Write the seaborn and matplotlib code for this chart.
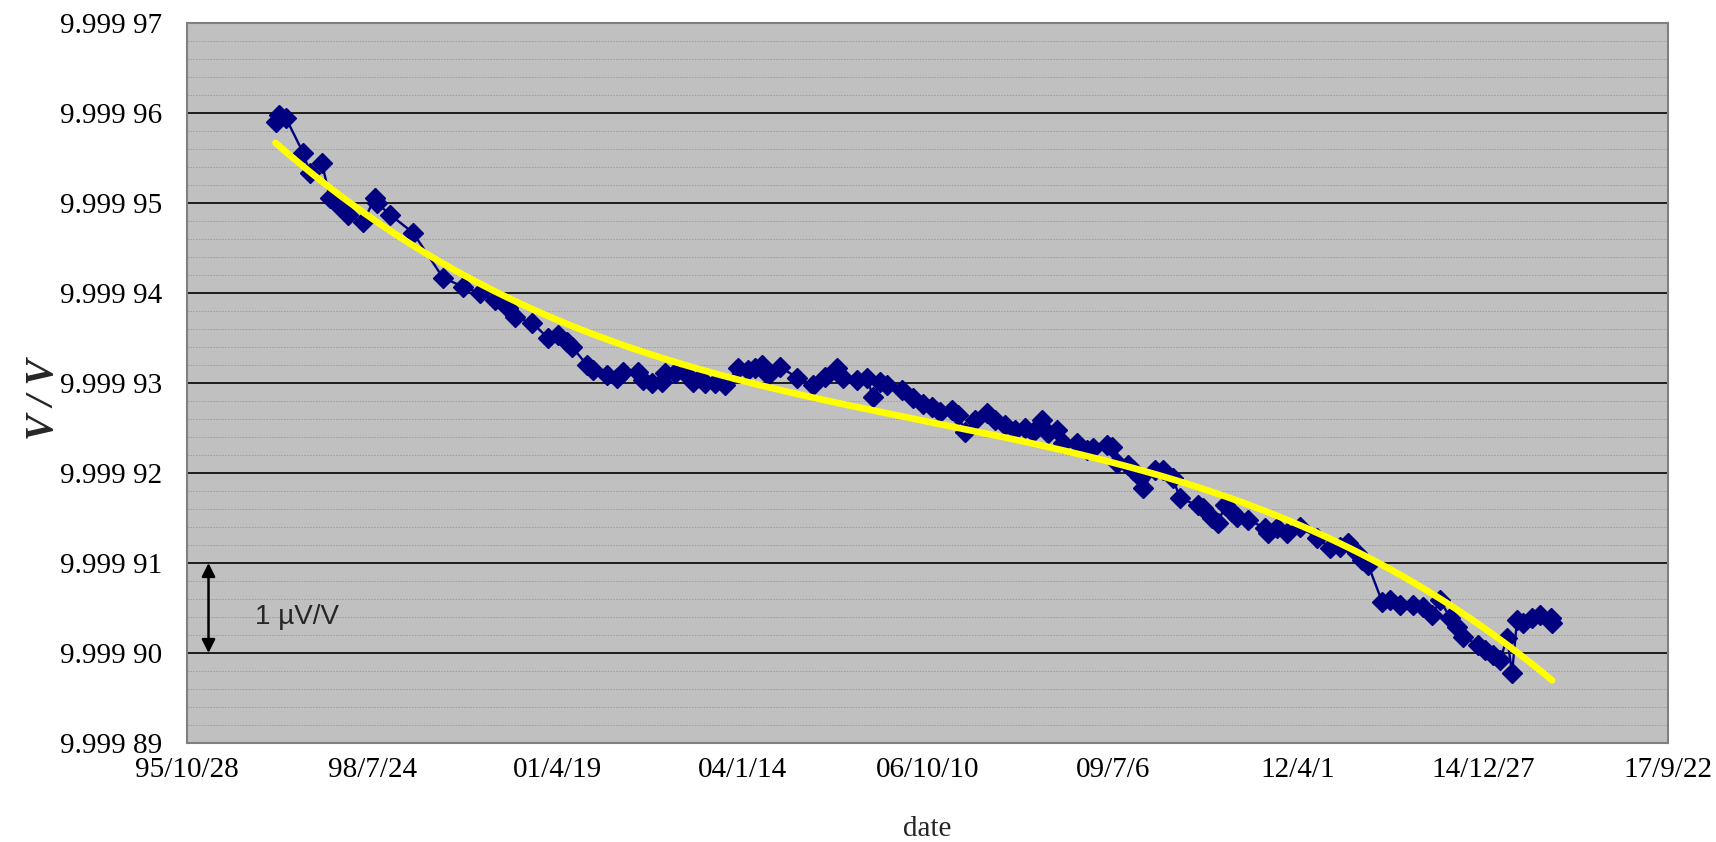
import numpy as np
import pandas as pd
import seaborn as sns
import matplotlib.pyplot as plt
import matplotlib.dates as mdates
from matplotlib.ticker import FuncFormatter, FixedLocator

# Excel serial dates of the measurements and the measured value in V
serials = [35478, 35495, 35535, 35627, 35664, 35729, 35772, 35816, 35870, 35951,
           36016, 36026, 36097, 36221, 36383, 36491, 36580, 36664, 36734, 36772,
           36864, 36950, 37004, 37053, 37080, 37161, 37193, 37269, 37323, 37355,
           37436, 37463, 37512, 37566, 37582, 37636, 37690, 37733, 37771, 37798,
           37852, 37906, 37977, 38031, 38068, 38106, 38139, 38203, 38295, 38382,
           38446, 38511, 38544, 38619, 38673, 38706, 38744, 38781, 38862, 38922,
           38975, 39024, 39068, 39133, 39165, 39203, 39257, 39322, 39365, 39419,
           39473, 39527, 39570, 39619, 39651, 39700, 39732, 39808, 39862, 39894,
           39970, 39997, 40024, 40083, 40110, 40148, 40164, 40229, 40272, 40326,
           40364, 40461, 40488, 40537, 40569, 40607, 40645, 40672, 40731, 40823,
           40839, 40888, 40942, 41012, 41104, 41174, 41228, 41272, 41321, 41348,
           41380, 41456, 41499, 41553, 41623, 41677, 41726, 41769, 41823, 41861,
           41893, 41974, 42012, 42055, 42093, 42131, 42158, 42185, 42217, 42266,
           42309, 42369, 42374]
volts = [9.9999590, 9.9999598, 9.9999594, 9.9999556, 9.9999533, 9.9999544, 9.9999506, 9.9999498, 9.9999487, 9.9999479,
         9.9999506, 9.9999500, 9.9999487, 9.9999467, 9.9999417, 9.9999407, 9.9999400, 9.9999392, 9.9999383, 9.9999373,
         9.9999367, 9.9999350, 9.9999353, 9.9999346, 9.9999340, 9.9999320, 9.9999314, 9.9999309, 9.9999306, 9.9999312,
         9.9999312, 9.9999303, 9.9999300, 9.9999301, 9.9999311, 9.9999311, 9.9999311, 9.9999301, 9.9999306, 9.9999300,
         9.9999300, 9.9999298, 9.9999317, 9.9999314, 9.9999317, 9.9999320, 9.9999309, 9.9999318, 9.9999306, 9.9999298,
         9.9999307, 9.9999317, 9.9999306, 9.9999303, 9.9999306, 9.9999284, 9.9999301, 9.9999298, 9.9999292, 9.9999283,
         9.9999277, 9.9999273, 9.9999268, 9.9999270, 9.9999264, 9.9999246, 9.9999259, 9.9999267, 9.9999259, 9.9999253,
         9.9999248, 9.9999250, 9.9999246, 9.9999259, 9.9999244, 9.9999248, 9.9999233, 9.9999233, 9.9999226, 9.9999228,
         9.9999231, 9.9999229, 9.9999211, 9.9999209, 9.9999203, 9.9999196, 9.9999183, 9.9999203, 9.9999203, 9.9999194,
         9.9999172, 9.9999164, 9.9999161, 9.9999150, 9.9999144, 9.9999164, 9.9999157, 9.9999151, 9.9999148, 9.9999139,
         9.9999133, 9.9999139, 9.9999133, 9.9999140, 9.9999128, 9.9999117, 9.9999118, 9.9999122, 9.9999111, 9.9999103,
         9.9999098, 9.9999057, 9.9999059, 9.9999053, 9.9999053, 9.9999051, 9.9999042, 9.9999059, 9.9999039, 9.9999029,
         9.9999018, 9.9999009, 9.9999003, 9.9998998, 9.9998992, 9.9999017, 9.9998978, 9.9999037, 9.9999033, 9.9999039,
         9.9999042, 9.9999039, 9.9999033]

x_start, x_end, x_step = 35000, 43000, 1000
y_min, y_max = 9.99989, 9.99997

def to_date(s):
    return pd.to_datetime(np.asarray(s), unit="D", origin="1899-12-30")

df = pd.DataFrame({"date": to_date(serials), "V": volts})

# cubic trendline (like the Excel polynomial trendline)
xs = np.array(serials, dtype=float)
coef = np.polyfit(xs - xs.mean(), np.array(volts) - 9.9999, 3)
xfit = np.linspace(xs.min(), xs.max(), 300)
trend = pd.DataFrame({"date": to_date(xfit),
                      "V": np.polyval(coef, xfit - xs.mean()) + 9.9999})

sns.set_theme(style="white")
plt.rcParams["font.family"] = ["Liberation Serif", "DejaVu Serif"]

fig = plt.figure(figsize=(17.16, 8.42), dpi=100)
ax = fig.add_axes([0.109, 0.1176, 0.863, 0.855])
ax.set_facecolor("#C0C0C0")

sns.lineplot(data=df, x="date", y="V", ax=ax, color="#000080", linewidth=1.7,
             marker="D", markersize=10.5, markeredgecolor="#000080", markeredgewidth=1)
sns.lineplot(data=trend, x="date", y="V", ax=ax, color="#FFFF00", linewidth=4.8,
             solid_capstyle="round")

ax.set_xlim(to_date([x_start])[0], to_date([x_end])[0])
ax.set_ylim(y_min, y_max)
ax.set_xticks(to_date(list(range(x_start, x_end + 1, x_step))))
ax.xaxis.set_major_formatter(FuncFormatter(
    lambda v, p: (lambda d: f"{d.year % 100:02d}/{d.month}/{d.day}")(mdates.num2date(v))))
n_major = int(round((y_max - y_min) / 1e-5))
ax.yaxis.set_major_locator(FixedLocator([y_min + k * 1e-5 for k in range(n_major + 1)]))
ax.yaxis.set_minor_locator(FixedLocator([y_min + k * 2e-6 for k in range(5 * n_major + 1) if k % 5]))
ax.yaxis.set_major_formatter(FuncFormatter(lambda v, p: (lambda s: s[:5] + " " + s[5:])(f"{v:.5f}")))

ax.set_axisbelow(True)
ax.grid(axis="y", which="major", color="black", linewidth=1.2)
ax.grid(axis="y", which="minor", color="#9a9a9a", linewidth=0.7, linestyle=(0, (1.5, 1.5)),
        snap=True)
ax.grid(axis="x", visible=False)
for sp in ax.spines.values():
    sp.set_color("#808080")
    sp.set_linewidth(1.5)

ax.tick_params(axis="both", which="major", direction="in", length=6, width=1.2,
               color="#808080", labelsize=21, labelcolor="black")
ax.tick_params(axis="y", pad=18)
ax.tick_params(axis="x", pad=10)
ax.tick_params(axis="y", which="minor", length=0)

ax.set_xlabel("date", fontsize=21, labelpad=24)
ax.set_ylabel("V / V", fontsize=28, fontweight="bold", fontstyle="italic")
ax.yaxis.set_label_coords(-0.0844, 0.477)

# 1 uV/V scale marker
tr = ax.get_yaxis_transform()
ax.annotate("", xy=(0.0145, 9.99990), xytext=(0.0145, 9.99991), xycoords=tr, textcoords=tr,
            arrowprops=dict(arrowstyle="<|-|>", color="black", lw=1.8, mutation_scale=20,
                            shrinkA=0, shrinkB=0))
ax.text(0.046, 9.999904, "1 \u00b5V/V", transform=tr, fontsize=20, va="center",
        family=["Liberation Sans", "DejaVu Sans"])

fig.savefig("out.png", dpi=100)
